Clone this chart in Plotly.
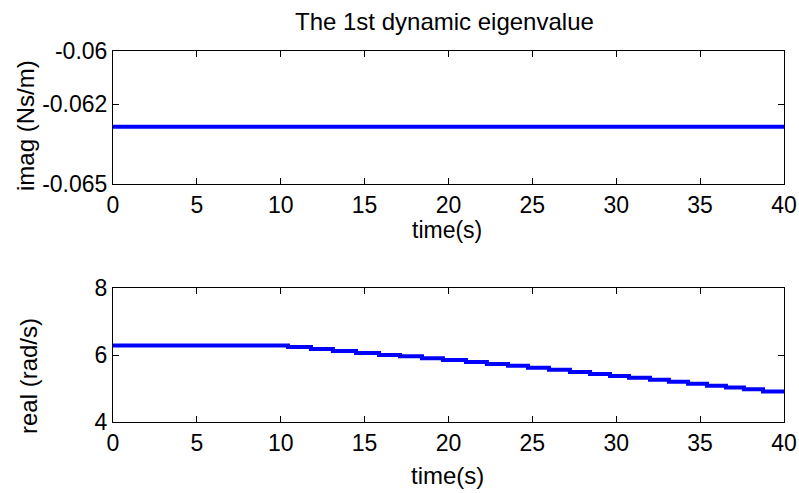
import plotly.graph_objects as go

# Time axis and eigenvalue traces
imag_time = [0, 40]
imag_value = [-0.06285, -0.06285]

step_time = [0, 10.43, 11.80, 13.11, 14.49, 15.86, 17.11, 18.42, 19.67, 21.04,
             22.29, 23.55, 24.74, 25.99, 27.24, 28.44, 29.63, 30.76, 32.01,
             33.14, 34.28, 35.41, 36.54, 37.61, 38.75, 40.0]
real_value = [6.29, 6.25, 6.19, 6.13, 6.07, 6.01, 5.97, 5.91, 5.86, 5.80,
              5.74, 5.69, 5.63, 5.57, 5.50, 5.44, 5.38, 5.33, 5.27, 5.21,
              5.15, 5.09, 5.04, 4.99, 4.92, 4.87]

x_ticks = [0, 5, 10, 15, 20, 25, 30, 35, 40]
imag_ticks = [-0.065, -0.062, -0.06]
imag_tick_text = ["-0.065", "-0.062", "-0.06"]
real_ticks = [4, 6, 8]

FONT = "Liberation Sans, Arial, sans-serif"
TICK_FS = 23
LABEL_FS = 24
W, H = 799, 493

fig = go.Figure()
fig.add_trace(go.Scatter(x=imag_time, y=imag_value, mode="lines",
                         line=dict(color="#0000ff", width=4),
                         xaxis="x", yaxis="y", showlegend=False))
fig.add_trace(go.Scatter(x=step_time, y=real_value, mode="lines",
                         line=dict(color="#0000ff", width=4, shape="hv"),
                         xaxis="x2", yaxis="y2", showlegend=False))

x0, x1 = 113 / W, 784 / W
axis_common = dict(showline=True, linecolor="black", linewidth=1, mirror="ticks",
                   ticks="inside", ticklen=6, tickcolor="black", showgrid=False,
                   zeroline=False, automargin=False,
                   tickfont=dict(family=FONT, size=TICK_FS, color="black"))

fig.update_layout(
    width=W, height=H, margin=dict(l=0, r=0, t=0, b=0),
    plot_bgcolor="white", paper_bgcolor="white",
    xaxis=dict(domain=[x0, x1], range=[0, 40], tickvals=x_ticks, anchor="y",
               **axis_common),
    yaxis=dict(domain=[1 - 184 / H, 1 - 51 / H], range=[-0.065, -0.06],
               tickvals=imag_ticks, ticktext=imag_tick_text, anchor="x",
               **axis_common),
    xaxis2=dict(domain=[x0, x1], range=[0, 40], tickvals=x_ticks, anchor="y2",
                **axis_common),
    yaxis2=dict(domain=[1 - 422.3 / H, 1 - 288.3 / H], range=[4, 8],
                tickvals=real_ticks, anchor="x2", **axis_common),
)

def label(text, x, y, angle=0, size=LABEL_FS):
    fig.add_annotation(text=text, x=x / W, y=1 - y / H, xref="paper", yref="paper",
                       showarrow=False, textangle=angle, xanchor="center",
                       yanchor="middle", borderpad=0,
                       font=dict(family=FONT, size=size, color="black"))

label("The 1st dynamic eigenvalue", 444, 21)
label("time(s)", 447, 230, size=23)
label("time(s)", 447, 475)
label("imag (Ns/m)", 25, 126, -90)
label("real (rad/s)", 28, 376, -90)

fig.write_html("out.html")
